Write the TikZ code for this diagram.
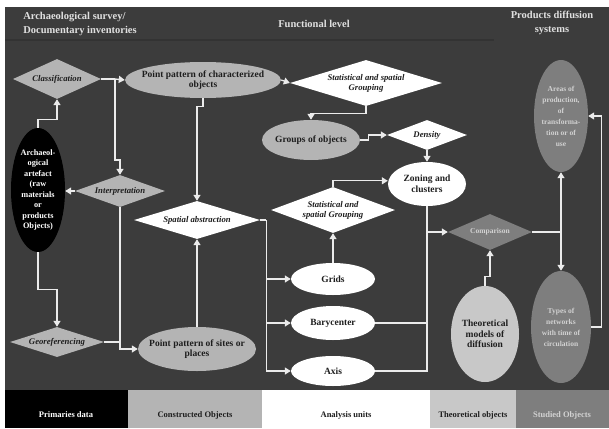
\documentclass[tikz,border=0pt]{standalone}
\usepackage{fontspec}
\setmainfont{Liberation Serif}
\usetikzlibrary{shapes.geometric,arrows.meta}
\definecolor{bgdark}{HTML}{3C3C3C}
\definecolor{lgray}{HTML}{B4B4B4}
\definecolor{mgray}{HTML}{7E7E7E}
\definecolor{tgray}{HTML}{C8C8C8}
\definecolor{ltext}{HTML}{D2D2D2}
\definecolor{dtext}{HTML}{1E1E1E}
\begin{document}
\begin{tikzpicture}[x=1pt,y=-1pt,
  ell/.style={ellipse, inner sep=0pt, draw=none},
  dia/.style={diamond, inner sep=0pt, draw=none},
  lt/.style={align=center, inner sep=0pt, text=dtext, font=\fontsize{9.5}{10.5}\selectfont\bfseries},
  it/.style={align=center, inner sep=0pt, text=dtext, font=\fontsize{8.7}{10}\selectfont\bfseries\itshape},
  wt/.style={align=center, inner sep=0pt, text=white, font=\fontsize{8.3}{10.5}\selectfont\bfseries},
  gt/.style={align=center, inner sep=0pt, text=ltext, font=\fontsize{7.5}{11}\selectfont\bfseries},
  ht/.style={align=center, inner sep=0pt, text=white!88!black, font=\fontsize{10.5}{14}\selectfont\bfseries},
  legt/.style={align=center, inner sep=0pt, text=dtext, font=\fontsize{8.5}{10}\selectfont\bfseries},
  conn/.style={draw=white!92!black, line width=1.3pt},
  arr/.style={conn, -{Triangle[width=7pt,length=6pt]}},
  leg/.style={draw=none, inner sep=0pt, minimum height=38pt, anchor=north west}
]
\useasboundingbox (0,0) rectangle (609,428);
\fill[white] (0,0) rectangle (609,428);
\fill[bgdark] (5,7) rectangle (609,390);
\draw[black!80, line width=1.5pt] (5,40) -- (494,40);

% header
\node[ht, align=left] (h1) at (80,24) {Archaeological survey/\\Documentary inventories};
\node[ht] (h2) at (314,24) {Functional level};
\node[ht] (h3) at (552,23) {Products diffusion\\systems};

% nodes
\node[dia, fill=lgray, minimum width=88pt, minimum height=40pt, label={[it]center:Classification}] (class) at (57,79) {};
\node[ell, fill=black, minimum width=54pt, minimum height=124pt,
  label={[wt]center:{Archaeol-\\ogical\\artefact\\(raw\\materials\\or\\products\\Objects)}}] (art) at (38,190) {};
\node[ell, fill=lgray, minimum width=156pt, minimum height=36pt,
  label={[lt]center:{Point pattern of characterized\\objects}}] (pchar) at (203,80) {};
\node[dia, fill=white, minimum width=152pt, minimum height=46pt,
  label={[it]center:{Statistical and spatial\\Grouping}}] (sg1) at (366,83) {};
\node[ell, fill=lgray, minimum width=98pt, minimum height=40pt,
  label={[lt]center:Groups of objects}] (grp) at (311,140) {};
\node[dia, fill=white, minimum width=80pt, minimum height=30pt,
  label={[it]center:Density}] (dens) at (427,135) {};
\node[ell, fill=white, minimum width=78pt, minimum height=44pt,
  label={[lt]center:{Zoning and\\clusters}}] (zon) at (427,184) {};
\node[dia, fill=lgray, minimum width=90pt, minimum height=32pt,
  label={[it]center:Interpretation}] (interp) at (120,191) {};
\node[dia, fill=white, minimum width=126pt, minimum height=38pt,
  label={[it]center:Spatial abstraction}] (spab) at (197,220) {};
\node[dia, fill=white, minimum width=124pt, minimum height=46pt,
  label={[it]center:{Statistical and\\spatial Grouping}}] (sg2) at (333,210) {};
\node[dia, fill=mgray, minimum width=84pt, minimum height=36pt,
  label={[gt]center:Comparison}] (comp) at (490,232) {};
\node[ell, fill=mgray, minimum width=54pt, minimum height=112pt,
  label={[gt]center:{Areas of\\production,\\of\\transforma-\\tion or of\\use}}] (areas) at (561,116) {};
\node[ell, fill=mgray, minimum width=60pt, minimum height=112pt,
  label={[gt]center:{Types of\\networks\\with time of\\circulation}}] (types) at (561,327) {};
\node[ell, fill=tgray, minimum width=68pt, minimum height=96pt,
  label={[lt]center:{Theoretical\\models of\\diffusion}}] (theo) at (485,334) {};
\node[ell, fill=white, minimum width=84pt, minimum height=32pt,
  label={[lt]center:Grids}] (grids) at (333,279) {};
\node[ell, fill=white, minimum width=84pt, minimum height=34pt,
  label={[lt]center:Barycenter}] (bary) at (333,323) {};
\node[ell, fill=white, minimum width=84pt, minimum height=30pt,
  label={[lt]center:Axis}] (axis) at (333,371) {};
\node[dia, fill=lgray, minimum width=94pt, minimum height=30pt,
  label={[it]center:Georeferencing}] (geo) at (57,342) {};
\node[ell, fill=lgray, minimum width=118pt, minimum height=44pt,
  label={[lt]center:{Point pattern of sites or\\places}}] (psites) at (197,349) {};

% connectors
\coordinate (j1) at (115,79);
\draw[arr] (art.north) -- ++(0,-8) -| (class.south);
\draw[conn] (class.east) -- (j1);
\draw[arr] (j1) -- (pchar.west);
\draw[arr] (j1) -- ++(0,81) -| (interp.north);
\draw[arr] (interp.west) -- (art.east |- interp.west);
\draw[arr] (interp.south) |- (psites.west);
\draw[conn] (geo.east) -- (geo.east -| interp.south);
\draw[arr] (art.south) -- ++(0,37) -| (geo.north);
\draw[arr] (pchar.south) -- ++(0,8) -| (spab.north);
\draw[arr] (psites.north) -- (spab.south);
\draw[arr] (pchar.east) -- (sg1.west);
\draw[arr] (sg1.south) -- ++(0,7) -| (grp.north);
\draw[arr] (grp.east) -- ++(8,0) |- (dens.west);
\draw[arr] (dens.south) -- (zon.north);
\draw[conn] (spab.east) -- ++(6,0) coordinate (t);
\draw[arr] (t) |- (grids.west);
\draw[arr] (t) |- (bary.west);
\draw[arr] (t) |- (axis.west);
\draw[arr] (grids.north) -- (sg2.south);
\draw[arr] (sg2.north) -- ++(0,-6) coordinate (s2) -- (s2 -| zon.west);
\coordinate (jc) at (zon.south |- comp.west);
\draw[arr] (zon.south) -- (jc) -- (comp.west);
\draw[conn] (bary.east) -| (jc);
\draw[conn] (axis.east) -| (jc);
\draw[arr] (theo.north) -- ++(0,-9) -| (comp.south);
\coordinate (jr) at (comp.east -| areas.south);
\draw[conn] (comp.east) -- (jr);
\draw[arr] (jr) -- (areas.south);
\draw[arr] (jr) -- (types.north);
\draw[arr] (types.east) -- ++(10,0) |- (areas.east);

% legend
\node[leg, fill=black, minimum width=123pt] (l1) at (5,390) {};
\node[leg, fill=lgray, minimum width=134pt] (l2) at (128,390) {};
\node[leg, fill=white, minimum width=168pt] (l3) at (262,390) {};
\node[leg, fill=tgray, minimum width=86pt] (l4) at (430,390) {};
\node[leg, fill=mgray, minimum width=93pt] (l5) at (516,390) {};
\node[legt, text=white] (t1) at (66,415) {Primaries data};
\node[legt] (t2) at (195,415) {Constructed Objects};
\node[legt] (t3) at (346,415) {Analysis units};
\node[legt] (t4) at (473,415) {Theoretical objects};
\node[legt, text=ltext] (t5) at (562,415) {Studied Objects};
\end{tikzpicture}
\end{document}
